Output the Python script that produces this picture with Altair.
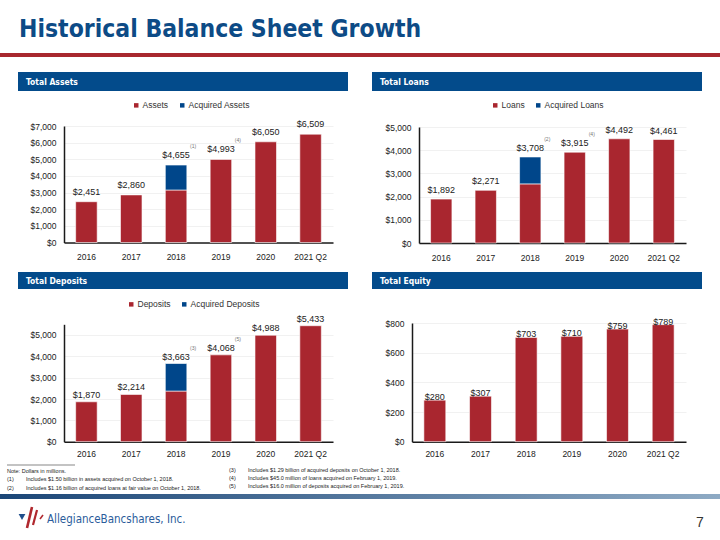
import altair as alt
import pandas as pd

# ---------------- data ----------------
years = ["2016", "2017", "2018", "2019", "2020", "2021 Q2"]

assets_total = [2451, 2860, 4655, 4993, 6050, 6509]
assets_acquired = [0, 0, 1500, 0, 0, 0]
assets_notes = ["", "", "(1)", "(4)", "", ""]

loans_total = [1892, 2271, 3708, 3915, 4492, 4461]
loans_acquired = [0, 0, 1160, 0, 0, 0]
loans_notes = ["", "", "(2)", "(4)", "", ""]

deposits_total = [1870, 2214, 3663, 4068, 4988, 5433]
deposits_acquired = [0, 0, 1290, 0, 0, 0]
deposits_notes = ["", "", "(3)", "(5)", "", ""]

equity_total = [280, 307, 703, 710, 759, 789]
equity_acquired = [0, 0, 0, 0, 0, 0]
equity_notes = ["", "", "", "", "", ""]

assets_ticks = [0, 1000, 2000, 3000, 4000, 5000, 6000, 7000]
loans_ticks = [0, 1000, 2000, 3000, 4000, 5000]
deposits_ticks = [0, 1000, 2000, 3000, 4000, 5000]
equity_ticks = [0, 200, 400, 600, 800]

footnotes_left = [
    ("", "Note: Dollars in millions."),
    ("(1)", "Includes $1.50 billion in assets acquired on October 1,  2018."),
    ("(2)", "Includes $1.16 billion of acquired loans at fair value on October 1,  2018."),
]
footnotes_right = [
    ("(3)", "Includes $1.29 billion of acquired deposits on October 1,  2018."),
    ("(4)", "Includes $45.0 million of loans acquired  on February 1, 2019."),
    ("(5)", "Includes $16.0 million of deposits  acquired on February 1, 2019."),
]

# ---------------- styles ----------------
RED = "#A9262F"
BLUE = "#00468A"
HEADER = "#034B8B"
TITLE_BLUE = "#0D4B86"
FONT = "Liberation Sans"
NARROW = "Liberation Sans Narrow, DejaVu Sans Condensed, sans-serif"
W, H = 720, 540

one = pd.DataFrame({"k": [0]})


def deco_text(txt, x, y, size, color="#222", font=FONT, weight="normal", align="left", baseline="middle"):
    return alt.Chart(one).mark_text(
        text=txt, fontSize=size, font=font, fontWeight=weight, color=color,
        align=align, baseline=baseline,
    ).encode(x=alt.value(x), y=alt.value(y))


def deco_rect(x, x2, y, y2, color):
    return alt.Chart(one).mark_rect(color=color).encode(
        x=alt.value(x), x2=alt.value(x2), y=alt.value(y), y2=alt.value(y2)
    )


def panel(title, series, acq_label, totals, acquired, notes, xr, yr, ydomain, yticks,
          label_dy, legend_xy, band, xlab_pad, show_legend=True):
    rows = []
    for i, yv in enumerate(years):
        rows.append({"year": yv, "series": series, "value": totals[i] - acquired[i], "ord": 0})
        if acquired[i] > 0:
            rows.append({"year": yv, "series": acq_label, "value": acquired[i], "ord": 1})
    bars_df = pd.DataFrame(rows)
    tot_df = pd.DataFrame({"year": years, "total": totals, "note": notes})

    xscale = alt.Scale(domain=years, range=xr, paddingInner=0.52, paddingOuter=0.26)
    yscale = alt.Scale(domain=ydomain, range=yr, nice=False, zero=True)

    x_axis = alt.Axis(
        orient="bottom", offset=yr[0] - H, title=None, labelAngle=0, ticks=False,
        domainColor="#1a1a1a", domainWidth=1.5, labelFont=FONT, labelFontSize=8.5,
        labelColor="#222", labelPadding=xlab_pad, grid=False,
    )
    y_axis = alt.Axis(
        orient="left", offset=-xr[0], title=None, values=yticks, format="$,.0f",
        ticks=False, domainColor="#1a1a1a", domainWidth=1.5, labelFont=FONT,
        labelFontSize=8.5, labelColor="#222", labelPadding=8, grid=True,
        gridColor="#EEEEEE", gridWidth=0.8,
    )

    if show_legend:
        color = alt.Color(
            "series:N",
            scale=alt.Scale(domain=[series, acq_label], range=[RED, BLUE]),
            legend=alt.Legend(
                orient="none", legendX=legend_xy[0], legendY=legend_xy[1],
                direction="horizontal", title=None, symbolType="square", symbolSize=20,
                labelFont=FONT, labelFontSize=8.5, labelColor="#333", columnPadding=9,
                labelOffset=2, symbolStrokeWidth=0, padding=0,
            ),
        )
    else:
        color = alt.value(RED)

    bars = alt.Chart(bars_df).mark_bar(stroke="white", strokeWidth=0.6).encode(
        x=alt.X("year:N", scale=xscale, axis=x_axis),
        y=alt.Y("value:Q", scale=yscale, axis=y_axis, stack="zero"),
        color=color,
        order=alt.Order("ord:Q"),
    )
    labels = alt.Chart(tot_df).mark_text(
        dy=label_dy, baseline="alphabetic", fontSize=9, font=FONT, color="#222"
    ).encode(
        x=alt.X("year:N", scale=xscale, axis=None),
        y=alt.Y("total:Q", scale=yscale, axis=None),
        text=alt.Text("total:Q", format="$,.0f"),
    )
    note_marks = alt.Chart(tot_df).transform_filter("datum.note != ''").mark_text(
        dx=17, dy=label_dy - 12, baseline="middle", fontSize=5, font=FONT, color="#777"
    ).encode(
        x=alt.X("year:N", scale=xscale, axis=None),
        y=alt.Y("total:Q", scale=yscale, axis=None),
        text="note:N",
    )
    header = deco_rect(band[0], band[1], band[2], band[3], HEADER)
    header_text = deco_text(title, band[0] + 8, (band[2] + band[3]) / 2, 8.5,
                            color="white", font=NARROW, weight="bold")
    return [header, header_text, bars, labels, note_marks]


layers = []
# slide title and rule
layers.append(deco_text("Historical Balance Sheet Growth", 19, 37, 24.5, color=TITLE_BLUE,
                        font=NARROW, weight="bold", baseline="alphabetic"))
layers.append(deco_rect(0, W, 53, 57, "#A8282E"))

layers += panel("Total Assets", "Assets", "Acquired Assets", assets_total, assets_acquired,
                assets_notes, [64, 333], [242.5, 126], [0, 7000], assets_ticks, -7,
                (132, 101), (18, 348, 72, 91), 10)
layers += panel("Total Loans", "Loans", "Acquired Loans", loans_total, loans_acquired,
                loans_notes, [419, 686], [243, 127], [0, 5000], loans_ticks, -6,
                (491, 101), (372, 702, 72, 91), 10)
layers += panel("Total Deposits", "Deposits", "Acquired Deposits", deposits_total,
                deposits_acquired, deposits_notes, [64, 333], [441.7, 324.3], [0, 5500],
                deposits_ticks, -4, (127, 300), (18, 348, 272, 289), 8)
layers += panel("Total Equity", "Equity", "Acquired Equity", equity_total, equity_acquired,
                equity_notes, [412, 686], [441.7, 323], [0, 800], equity_ticks, 0,
                (0, 0), (372, 702, 272, 289), 8, show_legend=False)

# footnotes
layers.append(alt.Chart(one).mark_rule(color="#555", strokeWidth=0.7).encode(
    x=alt.value(7), x2=alt.value(75), y=alt.value(465)))
for i, (num, txt) in enumerate(footnotes_left):
    yy = 470.5 + i * 8.5
    if num:
        layers.append(deco_text(num, 7, yy, 5.5))
        layers.append(deco_text(txt, 26, yy, 5.5))
    else:
        layers.append(deco_text(txt, 7, yy, 5.5))
for i, (num, txt) in enumerate(footnotes_right):
    yy = 469.5 + i * 8.3
    layers.append(deco_text(num, 229, yy, 5.5))
    layers.append(deco_text(txt, 248, yy, 5.5))

# footer gradient bar
grad = alt.Gradient(
    gradient="linear",
    stops=[alt.GradientStop(color="#1B4677", offset=0),
           alt.GradientStop(color="#8EAAC4", offset=1)],
    x1=0, x2=1, y1=0, y2=0,
)
layers.append(alt.Chart(one).mark_rect(color=grad).encode(
    x=alt.value(0), x2=alt.value(W), y=alt.value(494), y2=alt.value(499)))

# logo
layers.append(alt.Chart(one).mark_point(shape="triangle-down", filled=True, color="#1F4E8C",
                                        size=45, opacity=1).encode(
    x=alt.value(22), y=alt.value(517)))
for (xa, ya, xb, yb, sw) in [(27, 528, 32, 507, 2.6), (33, 525, 37, 510, 2.2), (40, 519, 43, 515, 1.6)]:
    layers.append(alt.Chart(one).mark_rule(color="#B0282E", strokeWidth=sw).encode(
        x=alt.value(xa), y=alt.value(ya), x2=alt.value(xb), y2=alt.value(yb)))
layers.append(deco_text("AllegianceBancshares, Inc.", 47, 520, 11.5, color="#2B5C9B", font=NARROW))
layers.append(deco_text("7", 700, 523, 14, color="#333", align="center"))

chart = alt.layer(*layers).resolve_scale(
    x="independent", y="independent", color="independent"
).properties(
    width=W, height=H, padding=0, autosize=alt.AutoSizeParams(type="none"),
    background="white",
).configure_view(stroke=None)

chart.save("out.html", embed_options={"renderer": "svg", "actions": False})
